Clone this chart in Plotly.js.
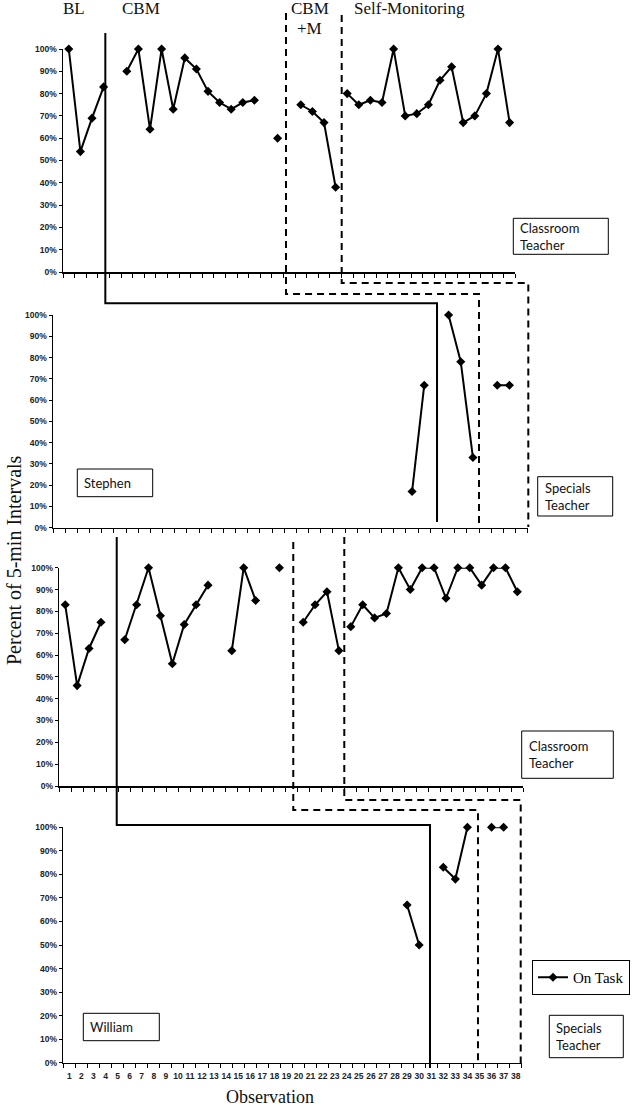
<!DOCTYPE html>
<html>
<head>
<meta charset="utf-8">
<script src="https://cdn.plot.ly/plotly-3.0.1.min.js"></script>
<style>
  html, body { margin: 0; padding: 0; background: #fff; }
  #chart { width: 633px; height: 1106px; }
</style>
</head>
<body>
<div id="chart"></div>
<script>
// Stephen - classroom teacher (panel 1, 39 slots on its axis)
const stephenClassObs = [1, 2, 3, 4, 6, 7, 8, 9, 10, 11, 12, 13, 14, 15, 16, 17, 19,
    21, 22, 23, 24, 25, 26, 27, 28, 29, 30, 31, 32, 33, 34, 35, 36, 37, 38, 39];
const stephenClassPct = [100, 54, 69, 83, 90, 100, 64, 100, 73, 96, 91, 81, 76, 73, 76, 77, 60,
    75, 72, 67, 38, 80, 75, 77, 76, 100, 70, 71, 75, 86, 92, 67, 70, 80, 100, 67];
const stephenClassCuts = [5, 20, 24.5];

// Stephen - specials teacher (panel 2)
const stephenSpecObs = [30, 31, 33, 34, 35, 37, 38];
const stephenSpecPct = [17, 67, 100, 78, 33, 67, 67];
const stephenSpecCuts = [32, 36];

// William - classroom teacher (panel 3)
const williamClassObs = [1, 2, 3, 4, 6, 7, 8, 9, 10, 11, 12, 13, 15, 16, 17, 19,
    21, 22, 23, 24, 25, 26, 27, 28, 29, 30, 31, 32, 33, 34, 35, 36, 37, 38, 39];
const williamClassPct = [83, 46, 63, 75, 67, 83, 100, 78, 56, 74, 83, 92, 62, 100, 85, 100,
    75, 83, 89, 62, 73, 83, 77, 79, 100, 90, 100, 100, 86, 100, 100, 92, 100, 100, 89];
const williamClassCuts = [5, 20, 24.5];

// William - specials teacher (panel 4, labelled 1..38)
const williamSpecObs = [29, 30, 32, 33, 34, 36, 37];
const williamSpecPct = [67, 50, 83, 78, 100, 100, 100];
const williamSpecCuts = [31, 35];

const yTicks = [0, 10, 20, 30, 40, 50, 60, 70, 80, 90, 100];
const yTickText = yTicks.map(v => v + '%');

const W = 633, H = 1106;
const px = v => v / W;
const py = v => 1 - v / H;

// pixel frames of the four panels: left, right, top, bottom, slots
const panels = [
    {l: 63,   r: 515.4, t: 49,    b: 272,    n: 39},
    {l: 53,   r: 527.7, t: 315,   b: 527.7,  n: 39},
    {l: 59.3, r: 523.3, t: 567.7, b: 786,    n: 39},
    {l: 63.3, r: 521.7, t: 827.3, b: 1062.7, n: 38}
];

// break the line where observations are missing or a phase changes
function series(obs, pct, cuts) {
    const x = [], y = [];
    for (let i = 0; i < obs.length; i++) {
        if (i > 0) {
            const a = obs[i - 1], b = obs[i];
            const cut = cuts.some(c => c > a && c < b);
            if (b - a > 1 || cut) {
                x.push((a + b) / 2);
                y.push(null);
            }
        }
        x.push(obs[i]);
        y.push(pct[i]);
    }
    return {x: x, y: y};
}

const sets = [
    series(stephenClassObs, stephenClassPct, stephenClassCuts),
    series(stephenSpecObs, stephenSpecPct, stephenSpecCuts),
    series(williamClassObs, williamClassPct, williamClassCuts),
    series(williamSpecObs, williamSpecPct, williamSpecCuts)
];

const data = sets.map((s, i) => ({
    x: s.x,
    y: s.y,
    xaxis: i === 0 ? 'x' : 'x' + (i + 1),
    yaxis: i === 0 ? 'y' : 'y' + (i + 1),
    type: 'scatter',
    mode: 'lines+markers',
    name: 'On Task',
    showlegend: i === 3,
    connectgaps: false,
    cliponaxis: false,
    line: {color: '#000', width: 2},
    marker: {symbol: 'diamond', size: 7, color: '#000'}
}));

const tickFont = {family: 'Liberation Sans, Arial, sans-serif', size: 8.5, color: '#222', weight: 'bold'};

const layout = {
    width: W,
    height: H,
    margin: {l: 0, r: 0, t: 0, b: 0},
    paper_bgcolor: '#fff',
    plot_bgcolor: 'rgba(0,0,0,0)',
    showlegend: true,
    legend: {
        x: px(630), xanchor: 'right',
        y: py(960), yanchor: 'top',
        bordercolor: '#000', borderwidth: 1,
        font: {family: 'Liberation Serif, Times New Roman, serif', size: 15, color: '#000'},
        itemwidth: 30
    },
    shapes: [],
    annotations: []
};

panels.forEach((p, i) => {
    const k = i === 0 ? '' : String(i + 1);
    layout['xaxis' + k] = {
        domain: [px(p.l), px(p.r)],
        anchor: 'y' + k,
        range: [0.5, p.n + 0.5],
        tickmode: 'linear', tick0: 1, dtick: 1,
        ticks: '',
        showticklabels: i === 3,
        tickangle: 0,
        ticklabelstandoff: 5,
        tickfont: tickFont,
        minor: {tickmode: 'linear', tick0: 0.5, dtick: 1, ticks: 'outside',
                ticklen: 4, tickwidth: 1, tickcolor: '#000'},
        showline: true, linecolor: '#000', linewidth: 1.5,
        showgrid: false, zeroline: false, fixedrange: true
    };
    layout['yaxis' + k] = {
        domain: [py(p.b), py(p.t)],
        anchor: 'x' + k,
        range: [0, 100],
        tickmode: 'array', tickvals: yTicks, ticktext: yTickText,
        ticks: 'outside', ticklen: 3, tickwidth: 1, tickcolor: '#000',
        tickfont: tickFont,
        showline: true, linecolor: '#000', linewidth: 1.5,
        showgrid: false, zeroline: false, fixedrange: true
    };
});

// phase change lines (drawn across panels, in pixels)
function path(pts) {
    return pts.map((q, j) => (j ? 'L' : 'M') + px(q[0]).toFixed(4) + ',' + py(q[1]).toFixed(4)).join(' ');
}
function phaseLine(pts, dashed) {
    layout.shapes.push({
        type: 'path', xref: 'paper', yref: 'paper',
        path: path(pts),
        line: {color: '#000', width: 2, dash: dashed ? '7px,5px' : 'solid'}
    });
}
phaseLine([[105.3, 33], [105.3, 303.3], [437, 303.3], [437, 522]], false);
phaseLine([[286, 13], [286, 294], [479, 294], [479, 525]], true);
phaseLine([[341.7, 15], [341.7, 283], [528.3, 283], [528.3, 527]], true);
phaseLine([[116.7, 537], [116.7, 825], [430, 825], [430, 1068]], false);
phaseLine([[293.3, 542], [293.3, 810], [478, 810], [478, 1063]], true);
phaseLine([[344.3, 537], [344.3, 800], [520.7, 800], [520.7, 1066]], true);

const serif = 'Liberation Serif, Times New Roman, serif';
function label(text, x, y, size, opts) {
    layout.annotations.push(Object.assign({
        text: text, xref: 'paper', yref: 'paper',
        x: px(x), y: py(y), xanchor: 'left', yanchor: 'middle',
        showarrow: false,
        font: {family: serif, size: size, color: '#111'}
    }, opts || {}));
}
label('BL', 61, 9, 17);
label('CBM', 120, 9, 17);
label('CBM', 289, 9, 17);
label('+M', 295, 28.5, 17);
label('Self-Monitoring', 352, 9, 17);
label('Percent of 5-min Intervals', 14, 560, 20, {xanchor: 'center', textangle: -90});
label('Observation', 270, 1097, 18, {xanchor: 'center'});

// boxed notes: rectangle plus text
function box(text, l, r, t, b) {
    layout.shapes.push({
        type: 'rect', xref: 'paper', yref: 'paper',
        x0: px(l), x1: px(r), y0: py(b), y1: py(t),
        line: {color: '#000', width: 1}, fillcolor: '#fff', layer: 'above'
    });
    layout.annotations.push({
        text: text, xref: 'paper', yref: 'paper',
        x: px(l + 5), y: py((t + b) / 2), xanchor: 'left', yanchor: 'middle',
        align: 'left', showarrow: false,
        font: {family: 'Lato, Noto Sans, sans-serif', size: 13, color: '#111'}
    });
}
box('Classroom<br>Teacher', 513.3, 608.3, 218.3, 254.3);
box('Stephen', 77.3, 152.7, 469, 496.7);
box('Specials<br>Teacher', 537.7, 612.7, 476.7, 516);
box('Classroom<br>Teacher', 521.7, 613.3, 731, 778.3);
box('William', 83.3, 159.3, 1013.3, 1040.7);
box('Specials<br>Teacher', 549.3, 623.3, 1015.3, 1057.7);

Plotly.newPlot('chart', data, layout, {displayModeBar: false, staticPlot: true});
</script>
</body>
</html>
